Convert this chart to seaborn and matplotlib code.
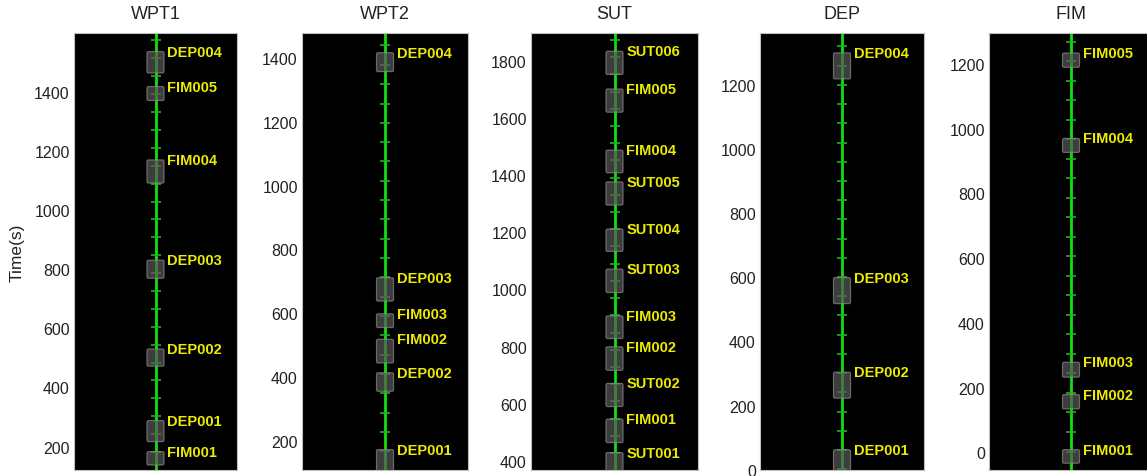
import numpy as np
import matplotlib
matplotlib.use("Agg")
import matplotlib.pyplot as plt
from matplotlib.patches import FancyBboxPatch
from matplotlib.ticker import MultipleLocator
import seaborn as sns

# ---- event timelines, one per station (times in seconds) ----
panel_names = ["WPT1", "WPT2", "SUT", "DEP", "FIM"]

wpt1_events = ["DEP004", "FIM005", "FIM004", "DEP003", "DEP002", "DEP001", "FIM001"]
wpt1_start = [1463, 1370, 1091, 769, 472, 217, 138]
wpt1_end = [1535, 1417, 1169, 830, 530, 288, 183]
wpt1_samples = [182, 242, 303, 363, 424, 484, 544, 605, 665, 726, 786, 847,
                907, 968, 1028, 1089, 1149, 1210, 1270, 1331, 1391, 1452, 1512, 1573]

wpt2_events = ["DEP004", "DEP003", "FIM003", "FIM002", "DEP002", "DEP001"]
wpt2_start = [1358, 638, 555, 444, 355, 95]
wpt2_end = [1417, 711, 598, 518, 413, 172]
wpt2_samples = [167, 228, 288, 349, 409, 470, 530, 591, 651, 712, 772, 833,
                894, 954, 1015, 1076, 1136, 1197, 1257, 1318, 1379, 1440]

sut_events = ["SUT006", "FIM005", "FIM004", "SUT005", "SUT004", "SUT003",
              "FIM003", "FIM002", "SUT002", "FIM001", "SUT001"]
sut_start = [1752, 1620, 1408, 1295, 1133, 989, 828, 717, 590, 464, 348]
sut_end = [1833, 1701, 1487, 1376, 1211, 1071, 907, 799, 671, 546, 429]
sut_samples = [427, 487, 547, 608, 668, 728, 788, 848, 909, 969, 1029, 1089,
               1150, 1210, 1270, 1330, 1390, 1451, 1511, 1571, 1631, 1692,
               1752, 1812, 1872]

dep_events = ["DEP004", "DEP003", "DEP002", "DEP001"]
dep_start = [1219, 518, 223, -20]
dep_end = [1300, 599, 304, 62]
dep_samples = [1, 61, 121, 181, 241, 301, 361, 421, 481, 541, 601, 661, 721,
               781, 841, 901, 961, 1020, 1080, 1140, 1200, 1260, 1320]

fim_events = ["FIM005", "FIM004", "FIM003", "FIM002", "FIM001"]
fim_start = [1190, 927, 232, 134, -34]
fim_end = [1234, 970, 278, 178, 8]
fim_samples = [2, 63, 123, 183, 244, 304, 364, 425, 485, 545, 606, 666, 726,
               787, 847, 907, 968, 1028, 1088, 1149, 1209, 1269]

panels = [
    (wpt1_events, wpt1_start, wpt1_end, wpt1_samples),
    (wpt2_events, wpt2_start, wpt2_end, wpt2_samples),
    (sut_events, sut_start, sut_end, sut_samples),
    (dep_events, dep_start, dep_end, dep_samples),
    (fim_events, fim_start, fim_end, fim_samples),
]

# ---- layout ----
y_limits = [(121, 1598), (108, 1479), (368, 1897), (-1, 1362), (-55, 1296)]
FIG_W, FIG_H = 1147, 477
AX_TOP, AX_BOTTOM = 34, 471
ax_columns = [(74, 237), (302, 468), (531, 698), (760, 924), (989, 1153)]

sns.set_theme(style="white")
plt.rcParams["font.family"] = ["Liberation Sans", "DejaVu Sans"]

fig = plt.figure(figsize=(FIG_W / 100, FIG_H / 100), dpi=100)

for i, (name, (events, starts, ends, samples)) in enumerate(zip(panel_names, panels)):
    left, right = ax_columns[i]
    ax = fig.add_axes([left / FIG_W, (FIG_H - AX_BOTTOM) / FIG_H,
                       (right - left) / FIG_W, (AX_BOTTOM - AX_TOP) / FIG_H])
    ax.set_facecolor("black")
    ylo, yhi = y_limits[i]
    ax.set_xlim(-1, 1)
    ax.set_ylim(ylo, yhi)

    # timeline axis and sample ticks
    ax.axvline(0, color="#10e010", lw=2, zorder=1)
    sns.scatterplot(x=np.zeros(len(samples)), y=samples, marker="_", s=45,
                    linewidth=1.2, color="#1fb41f", ax=ax, zorder=2, legend=False)

    # event spans
    px_x = 2 / (right - left)
    px_y = (yhi - ylo) / (AX_BOTTOM - AX_TOP)
    half_w = 8.5 * px_x
    for ev, s, e in zip(events, starts, ends):
        box = FancyBboxPatch((-half_w, s), 2 * half_w, e - s,
                             boxstyle="round,pad=0,rounding_size=%g" % (1.5 * px_x),
                             mutation_aspect=px_y / px_x,
                             facecolor="#585858", edgecolor="#8a8a8a",
                             alpha=0.7, lw=0.9, zorder=3)
        ax.add_patch(box)
        ax.annotate(ev, xy=(0, e), xytext=(8.6, 0), textcoords="offset points",
                    ha="left", va="center", color="#ecec00",
                    fontweight="bold", fontsize=10.5, zorder=4)

    ax.yaxis.set_major_locator(MultipleLocator(200))
    ax.set_xticks([])
    ax.tick_params(axis="y", length=0, pad=3, labelsize=11.5, labelcolor="#222222")
    for sp in ax.spines.values():
        sp.set_color("#bdbdbd")
        sp.set_linewidth(0.8)
    ax.set_title(name, fontsize=13, pad=11, color="#222222")
    if i == 0:
        ax.set_ylabel("Time(s)", fontsize=12.5, color="#222222", labelpad=7)

fig.savefig("out.png", dpi=100)
